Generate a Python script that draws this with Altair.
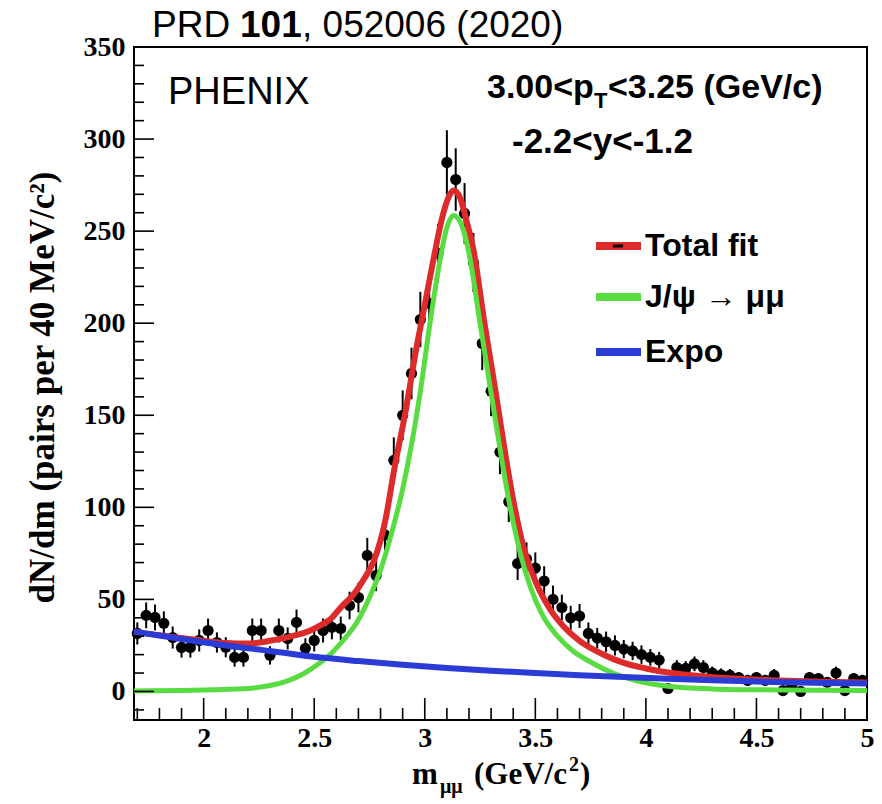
import altair as alt
import pandas as pd

# ---- measured dimuon mass spectrum (40 MeV bins) ----
mass = [1.70, 1.74, 1.78, 1.82, 1.86, 1.90, 1.94, 1.98, 2.02, 2.06,
        2.10, 2.14, 2.18, 2.22, 2.26, 2.30, 2.34, 2.38, 2.42, 2.46,
        2.50, 2.54, 2.58, 2.62, 2.66, 2.70, 2.74, 2.78, 2.82, 2.86,
        2.90, 2.94, 2.98, 3.02, 3.06, 3.10, 3.14, 3.18, 3.22, 3.26,
        3.30, 3.34, 3.38, 3.42, 3.46, 3.50, 3.54, 3.58, 3.62, 3.66,
        3.70, 3.74, 3.78, 3.82, 3.86, 3.90, 3.94, 3.98, 4.02, 4.06,
        4.10, 4.14, 4.18, 4.22, 4.26, 4.30, 4.34, 4.38, 4.42, 4.46,
        4.50, 4.54, 4.58, 4.62, 4.66, 4.70, 4.74, 4.78, 4.82, 4.86,
        4.90, 4.94, 4.98]
counts = [31.5, 41.3, 40.2, 37.0, 29.3, 23.9, 23.9, 27.7, 33.1, 26.6,
          24.0, 18.5, 18.5, 33.1, 33.1, 19.6, 33.1, 28.8, 37.5, 23.4,
          27.7, 33.1, 34.8, 34.2, 46.7, 51.0, 73.9, 63.0, 85.0, 125.5,
          150.0, 172.7, 202.0, 210.8, 238.0, 287.3, 278.0, 259.6, 233.0, 189.0,
          163.0, 130.0, 103.0, 69.5, 72.0, 67.0, 60.0, 50.0, 45.6, 40.0,
          41.0, 31.5, 29.0, 27.0, 25.0, 23.0, 22.0, 20.0, 18.5, 17.0,
          1.6, 13.0, 12.5, 15.0, 13.0, 10.0, 9.0, 8.7, 7.6, 6.0,
          7.6, 6.0, 8.7, 0.5, 3.0, 0.0, 7.6, 7.0, 5.0, 10.0,
          0.5, 7.0, 6.0]
errors = [6.0, 7.0, 7.0, 6.5, 6.0, 5.5, 5.5, 6.0, 6.5, 5.5,
          5.5, 5.0, 5.0, 6.5, 6.5, 5.0, 6.5, 6.0, 7.0, 5.5,
          6.0, 6.5, 6.5, 6.5, 7.5, 8.0, 9.5, 8.5, 10.0, 12.5,
          13.5, 14.0, 15.0, 15.5, 16.0, 17.5, 17.0, 16.5, 16.0, 14.5,
          13.5, 12.0, 11.0, 9.0, 9.0, 8.5, 8.0, 7.5, 7.0, 6.5,
          6.5, 6.0, 5.5, 5.5, 5.5, 5.0, 5.0, 5.0, 4.5, 4.5,
          2.0, 4.0, 4.0, 4.0, 4.0, 3.5, 3.5, 3.5, 3.0, 3.0,
          3.0, 3.0, 3.5, 1.5, 2.0, 1.5, 3.0, 3.0, 2.5, 3.5,
          1.5, 3.0, 3.0]

# ---- fit curves ----
total_m = [1.685, 1.80, 1.90, 2.00, 2.10, 2.20, 2.30, 2.40, 2.48, 2.53,
           2.58, 2.62, 2.68, 2.73, 2.77, 2.82, 2.867, 2.91, 2.96, 3.00,
           3.04, 3.08, 3.11, 3.13, 3.16, 3.19, 3.22, 3.27, 3.32, 3.36,
           3.40, 3.45, 3.50, 3.54, 3.57, 3.63, 3.70, 3.80, 3.90, 4.00,
           4.10, 4.25, 4.40, 4.60, 4.80, 5.00]
total_v = [32.5, 30.5, 29.0, 27.5, 26.3, 26.0, 27.5, 30.0, 33.0, 36.0,
           40.0, 45.6, 53.0, 62.0, 71.0, 92.0, 124.0, 150.0, 185.0, 210.0,
           235.0, 258.0, 269.0, 272.0, 268.0, 255.0, 240.0, 200.0, 163.0, 132.0,
           104.0, 77.0, 60.0, 50.0, 44.0, 35.0, 27.5, 20.5, 15.5, 12.5,
           10.3, 8.3, 7.0, 6.0, 5.3, 4.8]

jpsi_m = [1.685, 1.90, 2.05, 2.20, 2.30, 2.38, 2.45, 2.52, 2.58, 2.64,
          2.70, 2.75, 2.80, 2.85, 2.90, 2.94, 2.98, 3.02, 3.06, 3.10,
          3.13, 3.16, 3.20, 3.25, 3.30, 3.34, 3.38, 3.43, 3.48, 3.53,
          3.60, 3.67, 3.75, 3.85, 3.95, 4.10, 4.30, 4.60, 5.00]
jpsi_v = [0.3, 0.5, 0.9, 1.6, 3.2, 5.8, 9.5, 15.0, 21.0, 29.0,
          39.0, 51.0, 66.0, 86.0, 110.0, 134.0, 163.0, 197.0, 228.0, 252.0,
          258.5, 255.0, 238.0, 200.0, 162.0, 132.0, 104.0, 76.0, 56.0, 42.0,
          30.0, 22.0, 16.0, 10.0, 6.0, 2.8, 1.4, 0.8, 0.5]

expo_m = [1.685, 1.90, 2.10, 2.30, 2.50, 2.70, 2.90, 3.10, 3.30, 3.50,
          3.70, 3.90, 4.10, 4.30, 4.50, 4.70, 4.90, 5.00]
expo_v = [32.5, 28.5, 25.0, 22.0, 18.8, 16.5, 14.5, 12.8, 11.3, 10.0,
          8.8, 7.8, 6.9, 6.1, 5.4, 4.9, 4.5, 4.3]

# ---- axis ticks ----
x_major = [2.0, 2.5, 3.0, 3.5, 4.0, 4.5, 5.0]
x_minor = [1.7, 1.8, 1.9, 2.1, 2.2, 2.3, 2.4, 2.6, 2.7, 2.8, 2.9, 3.1, 3.2,
           3.3, 3.4, 3.6, 3.7, 3.8, 3.9, 4.1, 4.2, 4.3, 4.4, 4.6, 4.7, 4.8, 4.9]
y_major = [0, 50, 100, 150, 200, 250, 300, 350]
y_minor = [-10, 10, 20, 30, 40, 60, 70, 80, 90, 110, 120, 130, 140, 160, 170,
           180, 190, 210, 220, 230, 240, 260, 270, 280, 290, 310, 320, 330, 340]

W, H = 733, 673
RED, GREEN, BLUE = "#dd2b2b", "#58dc42", "#2b3cd6"
SERIF = "Liberation Serif"
SANS = "Liberation Sans"

xs = alt.Scale(domain=[1.685, 5.0], nice=False, zero=False)
ys = alt.Scale(domain=[-15.5, 350], nice=False, zero=False)
xaxis = alt.Axis(values=x_major, format="~g", ticks=False, domain=False, grid=False,
                 labelFont=SERIF, labelFontWeight="bold", labelFontSize=28,
                 labelColor="black", labelPadding=4, labelFlush=False, title=None)
yaxis = alt.Axis(values=y_major, format="d", ticks=False, domain=False, grid=False,
                 labelFont=SERIF, labelFontWeight="bold", labelFontSize=28,
                 labelColor="black", labelPadding=9,
                 title="dN/dm (pairs per 40 MeV/c²)", titleFont=SERIF,
                 titleFontWeight="bold", titleFontSize=35, titleColor="black",
                 titleAngle=-90, titleX=-92, titleY=340, titleAlign="center",
                 titleBaseline="middle")


def X(field):
    return alt.X(field, type="quantitative", scale=xs, axis=xaxis)


def Y(field):
    return alt.Y(field, type="quantitative", scale=ys, axis=yaxis)


pts = pd.DataFrame({"mass": mass, "count": counts, "err": errors})
pts["lo"] = pts["count"] - pts["err"]
pts["hi"] = pts["count"] + pts["err"]

err_bars = alt.Chart(pts).mark_rule(color="black", strokeWidth=2).encode(
    x=X("mass"), y=Y("lo"), y2="hi")
dots = alt.Chart(pts).mark_circle(color="black", size=125, opacity=1).encode(
    x=X("mass"), y=Y("count"))


def curve(m, v, color, width):
    df = pd.DataFrame({"mass": m, "count": v})
    return alt.Chart(df).mark_line(color=color, strokeWidth=width,
                                   interpolate="monotone").encode(
        x=X("mass"), y=Y("count"))


total_line = curve(total_m, total_v, RED, 6)
jpsi_line = curve(jpsi_m, jpsi_v, GREEN, 5)
expo_line = curve(expo_m, expo_v, BLUE, 6)


def xticks(vals, length):
    return alt.Chart(pd.DataFrame({"mass": vals})).mark_rule(
        color="black", strokeWidth=1.6).encode(
        x=X("mass"), y=alt.value(H), y2=alt.value(H - length))


def yticks(vals, length):
    return alt.Chart(pd.DataFrame({"count": vals})).mark_rule(
        color="black", strokeWidth=1.6).encode(
        y=Y("count"), x=alt.value(0), x2=alt.value(length))


def label(text, x, y, size, font=SANS, weight="normal", baseline="alphabetic",
          align="left"):
    return alt.Chart(pd.DataFrame({"t": [text]})).mark_text(
        font=font, fontSize=size, fontWeight=weight, baseline=baseline,
        align=align, color="black").encode(
        x=alt.value(x), y=alt.value(y), text="t:N")


def swatch(color, y):
    return alt.Chart(pd.DataFrame({"k": [0]})).mark_rule(
        color=color, strokeWidth=8).encode(
        x=alt.value(462), x2=alt.value(507), y=alt.value(y))


texts = [
    # reference line above the frame
    label("PRD ", 18, -10, 37),
    label("101", 106, -10, 37, weight="bold"),
    label(", 052006 (2020)", 168, -10, 37),
    label("PHENIX", 34, 57, 38),
    # kinematic selection
    label("3.00<p", 353, 51, 34, weight="bold"),
    label("T", 460, 61, 22, weight="bold"),
    label("<3.25 (GeV/c)", 474, 51, 34, weight="bold"),
    label("-2.2<y<-1.2", 378, 106, 35, weight="bold"),
    # legend entries
    label("Total fit", 511, 199, 32, weight="bold", baseline="middle"),
    label("J/ψ  →  μμ", 511, 250, 32, weight="bold", baseline="middle"),
    label("Expo", 511, 305, 32, weight="bold", baseline="middle"),
    # x-axis title: m_{μμ} (GeV/c^2)
    label("m", 278, 737, 31, font=SERIF, weight="bold"),
    label("μμ", 306, 746, 20, font=SERIF, weight="bold"),
    label("(GeV/c", 340, 737, 31, font=SERIF, weight="bold"),
    label("2", 435, 724, 20, font=SERIF, weight="bold"),
    label(")", 446, 737, 31, font=SERIF, weight="bold"),
]

legend_marks = [
    swatch(RED, 199),
    alt.Chart(pd.DataFrame({"k": [0]})).mark_rule(color="black", strokeWidth=3).encode(
        x=alt.value(479), x2=alt.value(489), y=alt.value(199)),
    swatch(GREEN, 250),
    swatch(BLUE, 305),
]

chart = alt.layer(
    err_bars, dots, total_line, jpsi_line, expo_line,
    xticks(x_major, 22), xticks(x_minor, 12),
    yticks(y_major, 20), yticks(y_minor, 10),
    *legend_marks, *texts,
).properties(
    width=W, height=H,
    autosize=alt.AutoSizeParams(type="none"),
    padding={"left": 134, "top": 47, "right": 15, "bottom": 84},
    background="white",
).configure_view(
    stroke="black", strokeWidth=2
)

chart.save("out.html", embed_options={"renderer": "svg", "actions": False})
